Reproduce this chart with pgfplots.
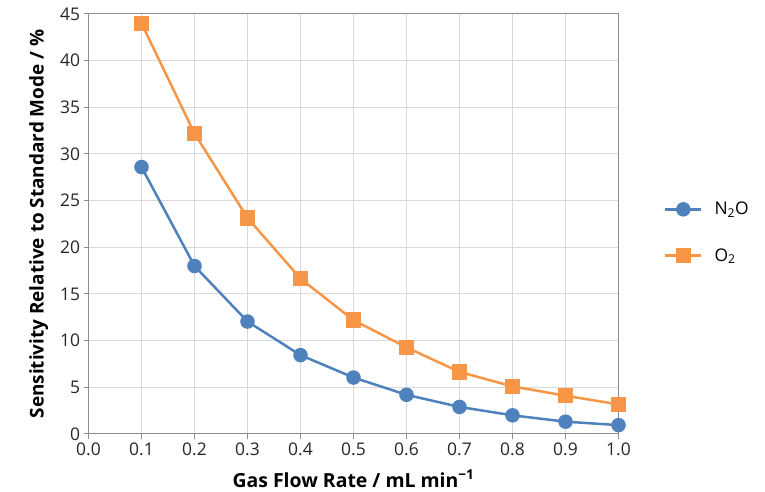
\documentclass[border=0pt]{standalone}
\usepackage{fontspec}
\setmainfont{Open Sans}
\usepackage{pgfplots}
\pgfplotsset{compat=1.18}
\definecolor{sblue}{HTML}{4F81BD}
\definecolor{sorange}{HTML}{F79646}
\definecolor{gridc}{HTML}{D9D9D9}
\definecolor{axc}{HTML}{8C8C8C}
\begin{document}
\begin{tikzpicture}[x=1bp,y=1bp]
\path (0,0) rectangle (765,492);
\begin{axis}[
  at={(88.5bp,58bp)}, anchor=south west,
  scale only axis, width=530bp, height=420bp,
  xmin=0, xmax=1, ymin=0, ymax=45,
  xtick={0,0.1,...,1.0}, ytick={0,5,...,45},
  xtick pos=bottom, ytick pos=left,
  xticklabel style={/pgf/number format/.cd,fixed,fixed zerofill,precision=1},
  /pgf/number format/assume math mode=true,
  tick label style={font=\fontsize{17.5}{20}\selectfont, text=black!85},
  grid=major, major grid style={gridc, line width=1bp},
  axis line style={axc, line width=1bp},
  tick style={axc, line width=1bp},
  tick align=outside, major tick length=5bp,
  xlabel={\textbf{Gas Flow Rate / mL min\textsuperscript{−1}}},
  ylabel={\textbf{Sensitivity Relative to Standard Mode / \%}},
  xlabel style={font=\fontsize{19.5}{22}\selectfont, yshift=-8bp},
  ylabel style={font=\fontsize{19}{22}\selectfont, yshift=5bp},
  legend style={at={(1.08,0.48)}, anchor=west, draw=none, fill=none,
    font=\fontsize{17.5}{20}\selectfont, row sep=28bp,
    /tikz/every odd column/.append style={column sep=10bp}},
  legend cell align=left,
  legend image code/.code={\draw[mark repeat=2,mark phase=2,#1] plot coordinates {(0bp,0bp) (18bp,0bp) (36bp,0bp)};},
  clip=false,
]
\addplot[sblue, line width=2.5bp, mark=*, mark size=6bp, mark options={solid, fill=sblue, draw=sblue}] coordinates {
(0.1,28.6) (0.2,18.0) (0.3,12.05) (0.4,8.45) (0.5,6.05) (0.6,4.2) (0.7,2.9) (0.8,2.0) (0.9,1.32) (1.0,0.95)
};
\addlegendentry{N\textsubscript{2}O}
\addplot[sorange, line width=2.5bp, mark=square*, mark size=6.5bp, mark options={solid, fill=sorange, draw=sorange}] coordinates {
(0.1,44.0) (0.2,32.2) (0.3,23.15) (0.4,16.65) (0.5,12.2) (0.6,9.28) (0.7,6.65) (0.8,5.1) (0.9,4.1) (1.0,3.17)
};
\addlegendentry{O\textsubscript{2}}
\end{axis}
\end{tikzpicture}
\end{document}
